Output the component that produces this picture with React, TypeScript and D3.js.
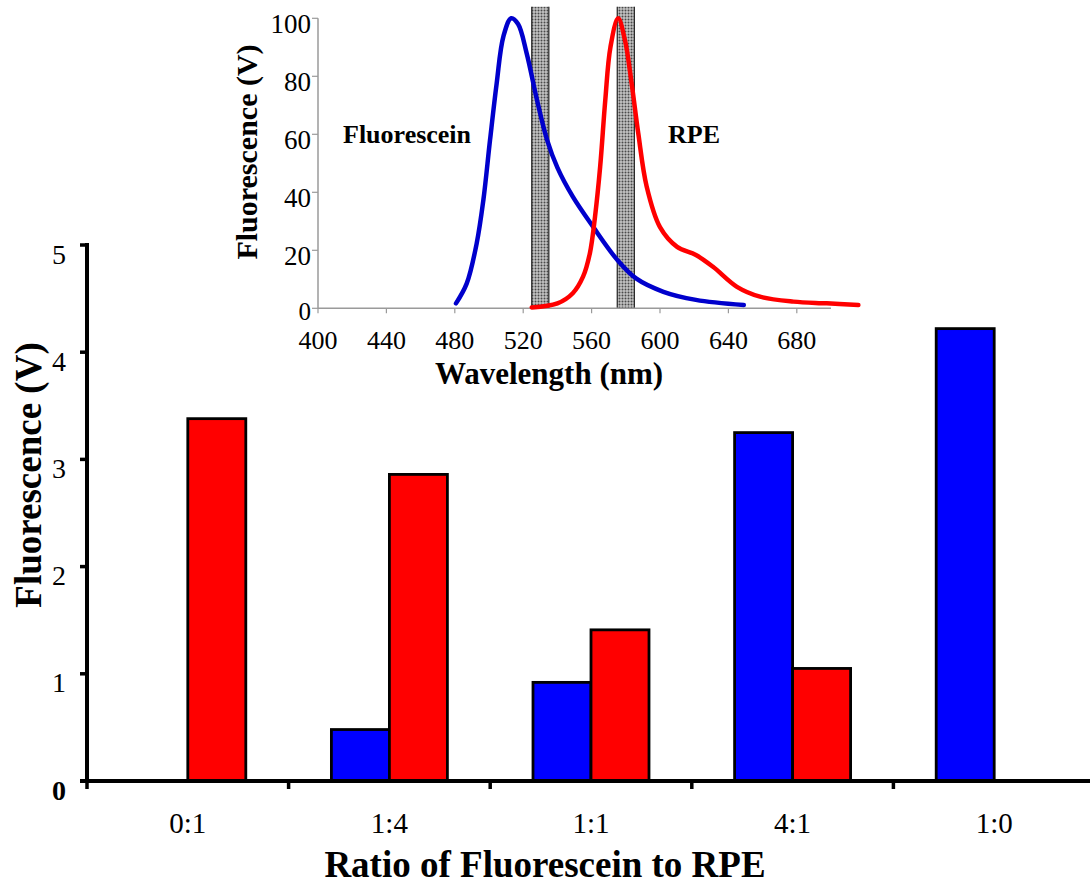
import React from "react";
import * as d3 from "d3";

// Emission ratio experiment: bar chart of detected fluorescence per mixture
const categories = ["0:1", "1:4", "1:1", "4:1", "1:0"];
const seriesNames = ["Fluorescein", "RPE"];
const fluoresceinSignal: (number | null)[] = [null, 0.48, 0.92, 3.25, 4.22];
const rpeSignal: (number | null)[] = [3.38, 2.86, 1.41, 1.05, null];
const mainYTicks = [0, 1, 2, 3, 4, 5];

// Inset: normalized emission spectra
const fluoresceinWavelength = [480.7, 487, 492.8, 496.7, 500.6, 504.5, 508.4, 513, 517, 522, 528, 534, 540, 549, 561, 575, 586, 602, 621, 649];
const fluoresceinEmission = [1.7, 8.6, 22.4, 37.3, 58, 77.6, 93.7, 100, 98, 88, 72, 58, 48.5, 38.5, 28, 16.7, 10.3, 5.7, 2.9, 1.1];
const rpeWavelength = [525, 540, 549, 555, 559, 562, 565, 568, 571, 575.5, 579.5, 583.4, 587.3, 592.2, 600, 610, 621, 631, 645, 658.5, 678, 697.5, 716];
const rpeEmission = [0.3, 1.7, 5.2, 10.9, 19, 31.6, 48.8, 71.8, 90, 100, 92.5, 77.6, 60.3, 42, 28, 21.2, 18.4, 14.3, 7.4, 4, 2.3, 1.7, 1.1];
const filterBands = [
  [525, 535],
  [575, 585],
];
const insetXTicks = [400, 440, 480, 520, 560, 600, 640, 680];
const insetYTicks = [0, 20, 40, 60, 80, 100];

const SERIF = "'Liberation Serif', 'Times New Roman', serif";
const BLUE = "#0000ff";
const RED = "#ff0000";

export default function App() {
  const width = 1090;
  const height = 884;

  // main chart scales
  const x = d3.scaleBand<string>().domain(categories).range([87, 1095]).paddingInner(0).paddingOuter(0);
  const y = d3.scaleLinear().domain([0, 5]).range([781, 245]);
  const barW = 58;
  const sub = d3
    .scaleBand<string>()
    .domain(seriesNames)
    .range([x.bandwidth() / 2 - barW, x.bandwidth() / 2 + barW]);

  const bars: { key: string; x: number; y: number; w: number; h: number; fill: string }[] = [];
  categories.forEach((c, i) => {
    const vals = [fluoresceinSignal[i], rpeSignal[i]];
    vals.forEach((v, j) => {
      if (v == null) return;
      const bx = (x(c) as number) + (sub(seriesNames[j]) as number);
      bars.push({ key: `${c}-${j}`, x: bx, y: y(v), w: sub.bandwidth(), h: y(0) - y(v), fill: j === 0 ? BLUE : RED });
    });
  });

  // inset scales
  const ix = d3.scaleLinear().domain([400, 700]).range([318, 831]);
  const iy = d3.scaleLinear().domain([0, 100]).range([308.3, 18.3]);
  const line = d3
    .line<[number, number]>()
    .x((d) => ix(d[0]))
    .y((d) => iy(d[1]))
    .curve(d3.curveCatmullRom.alpha(0.5));
  const bluePath = line(fluoresceinWavelength.map((w, i) => [w, fluoresceinEmission[i]] as [number, number])) || "";
  const redPath = line(rpeWavelength.map((w, i) => [w, rpeEmission[i]] as [number, number])) || "";

  const axisGrey = "#9a9a9a";

  return (
    <svg
      width={width}
      height={height}
      style={{ position: "absolute", left: 0, top: 0, background: "#fff" }}
      fontFamily={SERIF}
    >
      <defs>
        <pattern id="stipple" width={3} height={3} patternUnits="userSpaceOnUse">
          <rect width={3} height={3} fill="#c4c4c4" />
          <circle cx={1.5} cy={1.5} r={1} fill="#4a4a4a" />
        </pattern>
      </defs>
      <rect width={width} height={height} fill="#fff" />

      {/* ---------- main bar chart ---------- */}
      {bars.map((b) => (
        <rect key={b.key} x={b.x} y={b.y} width={b.w} height={b.h} fill={b.fill} stroke="#000" strokeWidth={2.8} />
      ))}

      {/* y axis */}
      <line x1={87} x2={87} y1={y(5) - 2} y2={y(0) + 2} stroke="#000" strokeWidth={4} />
      {mainYTicks.map((t) => (
        <g key={t}>
          <line x1={80} x2={87} y1={y(t)} y2={y(t)} stroke="#000" strokeWidth={3.5} />
          <text
            x={66}
            y={y(t) + 9}
            textAnchor="end"
            dominantBaseline="central"
            fontSize={28}
            fontWeight={t === 0 ? "bold" : "normal"}
          >
            {t}
          </text>
        </g>
      ))}

      {/* x axis */}
      <line x1={80} x2={1095} y1={y(0)} y2={y(0)} stroke="#000" strokeWidth={4} />
      {categories.map((c) => (
        <line key={"t" + c} x1={x(c) as number} x2={x(c) as number} y1={y(0)} y2={y(0) + 8} stroke="#000" strokeWidth={3.5} />
      ))}
      {categories.map((c) => (
        <text key={"l" + c} x={(x(c) as number) + x.bandwidth() / 2} y={833} textAnchor="middle" fontSize={29}>
          {c}
        </text>
      ))}
      <text x={545} y={877} textAnchor="middle" fontSize={37} fontWeight="bold">
        Ratio of Fluorescein to RPE
      </text>
      <text transform="translate(41,475) rotate(-90)" textAnchor="middle" fontSize={37} fontWeight="bold">
        Fluorescence (V)
      </text>

      {/* ---------- inset emission spectra ---------- */}
      {filterBands.map(([a, b]) => (
        <g key={a}>
          <rect x={ix(a)} y={iy(104)} width={ix(b) - ix(a)} height={iy(0) - iy(104)} fill="url(#stipple)" />
          <line x1={ix(a)} x2={ix(a)} y1={iy(104)} y2={iy(0)} stroke="#222" strokeWidth={1.2} />
          <line x1={ix(b)} x2={ix(b)} y1={iy(104)} y2={iy(0)} stroke="#222" strokeWidth={1.2} />
        </g>
      ))}

      {/* inset axes */}
      <line x1={ix(400)} x2={ix(700)} y1={iy(0)} y2={iy(0)} stroke={axisGrey} strokeWidth={1.5} />
      <line x1={ix(400)} x2={ix(400)} y1={iy(100)} y2={iy(0)} stroke={axisGrey} strokeWidth={1.5} />
      {insetXTicks.map((t) => (
        <g key={"ix" + t}>
          <line x1={ix(t)} x2={ix(t)} y1={iy(0)} y2={iy(0) + 5} stroke={axisGrey} strokeWidth={1.2} />
          <text x={ix(t)} y={349} textAnchor="middle" fontSize={26}>
            {t}
          </text>
        </g>
      ))}
      {insetYTicks.map((t) => (
        <g key={"iy" + t}>
          <line x1={ix(400) - 6} x2={ix(400)} y1={iy(t)} y2={iy(t)} stroke={axisGrey} strokeWidth={1.2} />
          <text x={311} y={iy(t) + (t === 0 ? 3 : 6)} textAnchor="end" dominantBaseline="central" fontSize={t === 0 ? 25 : 27}>
            {t}
          </text>
        </g>
      ))}

      <path d={bluePath} fill="none" stroke="#0000cc" strokeWidth={4.5} strokeLinecap="round" strokeLinejoin="round" />
      <path d={redPath} fill="none" stroke={RED} strokeWidth={4.5} strokeLinecap="round" strokeLinejoin="round" />

      <text x={343} y={143} fontSize={26} fontWeight="bold">
        Fluorescein
      </text>
      <text x={668} y={143} fontSize={26} fontWeight="bold">
        RPE
      </text>
      <text x={549} y={384} textAnchor="middle" fontSize={31} fontWeight="bold">
        Wavelength (nm)
      </text>
      <text transform="translate(257,152) rotate(-90)" textAnchor="middle" fontSize={30} fontWeight="bold">
        Fluorescence (V)
      </text>
    </svg>
  );
}
